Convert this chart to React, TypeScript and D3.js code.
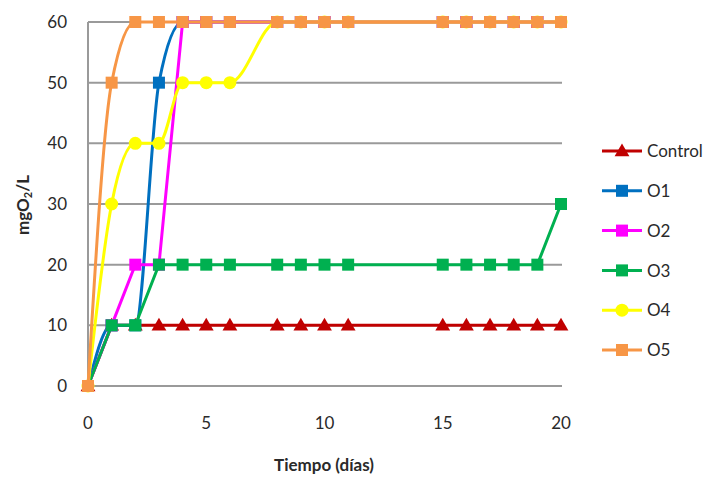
import React from "react";
import * as d3 from "d3";

const days = [0, 1, 2, 3, 4, 5, 6, 8, 9, 10, 11, 15, 16, 17, 18, 19, 20];
const control = [0, 10, 10, 10, 10, 10, 10, 10, 10, 10, 10, 10, 10, 10, 10, 10, 10];
const o1 = [0, 10, 10, 50, 60, 60, 60, 60, 60, 60, 60, 60, 60, 60, 60, 60, 60];
const o2 = [0, 10, 20, 20, 60, 60, 60, 60, 60, 60, 60, 60, 60, 60, 60, 60, 60];
const o3 = [0, 10, 10, 20, 20, 20, 20, 20, 20, 20, 20, 20, 20, 20, 20, 20, 30];
const o4 = [0, 30, 40, 40, 50, 50, 50, 60, 60, 60, 60, 60, 60, 60, 60, 60, 60];
const o5 = [0, 50, 60, 60, 60, 60, 60, 60, 60, 60, 60, 60, 60, 60, 60, 60, 60];
const seriesNames = ["Control", "O1", "O2", "O3", "O4", "O5"];
const xTicks = [0, 5, 10, 15, 20];
const yTicks = [0, 10, 20, 30, 40, 50, 60];

type Marker = "triangle" | "square" | "circle";
const series = [
  { name: seriesNames[0], values: control, color: "#C00000", marker: "triangle" as Marker, smooth: false },
  { name: seriesNames[1], values: o1, color: "#0070C0", marker: "square" as Marker, smooth: true },
  { name: seriesNames[2], values: o2, color: "#FF00FF", marker: "square" as Marker, smooth: false },
  { name: seriesNames[3], values: o3, color: "#00B050", marker: "square" as Marker, smooth: false },
  { name: seriesNames[4], values: o4, color: "#FFFF00", marker: "circle" as Marker, smooth: true },
  { name: seriesNames[5], values: o5, color: "#F79646", marker: "square" as Marker, smooth: true },
];

const W = 712;
const H = 477;
const x = d3.scaleLinear().domain([0, 20]).range([88, 561]);
const y = d3.scaleLinear().domain([0, 60]).range([386, 22]);
const FONT = "Lato, 'Open Sans', sans-serif";
const TEXT = "#2a2a2a";

function MarkerShape({ type, cx, cy, color }: { type: Marker; cx: number; cy: number; color: string }) {
  if (type === "triangle") {
    const p = d3.symbol(d3.symbolTriangle, 95)();
    return <path d={p || ""} transform={`translate(${cx},${cy + 1})`} fill={color} />;
  }
  if (type === "circle") {
    return <circle cx={cx} cy={cy} r={6.5} fill={color} />;
  }
  return <rect x={cx - 6} y={cy - 6} width={12} height={12} fill={color} />;
}

export default function App() {
  return (
    <svg width={W} height={H} style={{ display: "block", position: "absolute", left: 0, top: 0, background: "#fff" }}>
      {/* gridlines */}
      {yTicks.map((t) => (
        <line key={t} x1={88} x2={562} y1={y(t)} y2={y(t)} stroke="#9a9a9a" strokeWidth={2} />
      ))}
      <line x1={88} x2={88} y1={22} y2={386} stroke="#9a9a9a" strokeWidth={2} />
      {/* y tick labels */}
      {yTicks.map((t) => (
        <text key={t} x={67} y={y(t)} dy="0.36em" textAnchor="end" fontFamily={FONT} fontSize={17} fill={TEXT}>
          {t}
        </text>
      ))}
      {/* x tick labels */}
      {xTicks.map((t) => (
        <text key={t} x={x(t)} y={423} dy="0.36em" textAnchor="middle" fontFamily={FONT} fontSize={17} fill={TEXT}>
          {t}
        </text>
      ))}
      <text x={324} y={465} dy="0.36em" textAnchor="middle" fontFamily={FONT} fontSize={17} fontWeight={700} fill={TEXT}>
        Tiempo (días)
      </text>
      <text transform="translate(29,205) rotate(-90)" textAnchor="middle" fontFamily={FONT} fontSize={17} fontWeight={700} fill={TEXT}>
        mgO<tspan fontSize={11} dy={3}>2</tspan><tspan dy={-3}>/L</tspan>
      </text>
      {/* series */}
      {series.map((s) => {
        const line = d3
          .line<number>()
          .x((_, i) => x(days[i]))
          .y((v) => y(v))
          .curve(s.smooth ? d3.curveMonotoneX : d3.curveLinear);
        return (
          <g key={s.name}>
            <path d={line(s.values) || ""} fill="none" stroke={s.color} strokeWidth={3} />
            {s.values.map((v, i) => (
              <MarkerShape key={i} type={s.marker} cx={x(days[i])} cy={y(v)} color={s.color} />
            ))}
          </g>
        );
      })}
      {/* legend */}
      {series.map((s, i) => {
        const ly = 151 + i * 39.8;
        return (
          <g key={s.name}>
            <line x1={602} x2={642} y1={ly} y2={ly} stroke={s.color} strokeWidth={3} />
            <MarkerShape type={s.marker} cx={622} cy={ly} color={s.color} />
            <text x={647} y={ly} dy="0.36em" fontFamily={FONT} fontSize={17} fill={TEXT}>
              {s.name}
            </text>
          </g>
        );
      })}
    </svg>
  );
}
